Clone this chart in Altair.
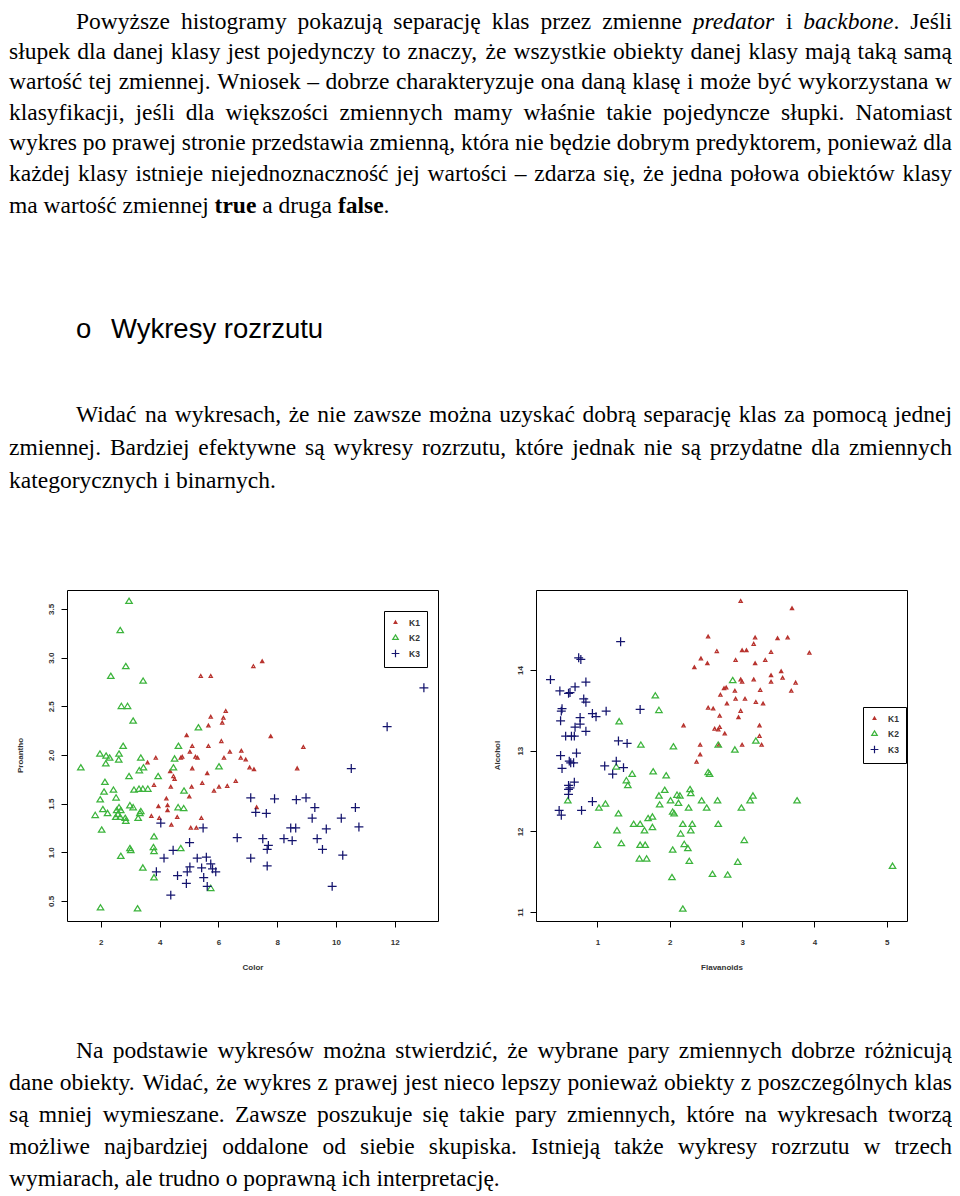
import re
import altair as alt
import pandas as pd

# ---------------- scatter data ----------------
classes = ["K1", "K2", "K3"]
class_colors = ["#b8332e", "#3cb43c", "#14146e"]
class_shapes = ["M0,-0.38L0.36,0.26L-0.36,0.26Z",
                "M0,-0.68L0.72,0.5L-0.72,0.5Z",
                "M-1,0L1,0M0,-1L0,1"]

# Plot 1: Color (x) vs Proantho (y)
k1_color = [7.19, 7.49, 5.74, 5.40, 6.25, 6.17, 5.74, 5.66, 6.13, 4.92, 7.78, 6.10, 5.66, 5.11, 8.89,
            5.03, 5.22, 5.29, 6.39, 6.19, 6.78, 6.76, 6.93, 4.72, 3.87, 3.59, 5.11, 7.06, 7.21, 8.68,
            4.36, 5.62, 4.47, 4.51, 3.81, 5.45, 6.59, 6.30, 6.02, 5.85, 5.09, 4.38, 5.01, 4.23, 4.27,
            4.27, 3.96, 7.30, 3.72, 3.99, 4.60, 5.42, 4.40, 5.06, 5.25, 4.77]
k1_proantho = [2.91, 2.96, 2.81, 2.81, 2.45, 2.38, 2.39, 2.30, 2.33, 2.20, 2.19, 2.14, 2.09, 2.09, 2.08,
               2.03, 1.98, 1.97, 2.03, 1.97, 2.04, 1.97, 1.95, 1.97, 1.97, 1.92, 1.86, 1.87, 1.85, 1.86,
               1.83, 1.81, 1.78, 1.75, 1.69, 1.71, 1.73, 1.68, 1.67, 1.63, 1.67, 1.67, 1.57, 1.55, 1.48,
               1.43, 1.47, 1.46, 1.37, 1.35, 1.36, 1.35, 1.28, 1.25, 1.25, 1.98]
k2_color = [2.96, 2.66, 2.85, 2.34, 3.44, 2.70, 2.91, 3.10, 5.32, 2.76, 4.64, 1.97, 2.18, 2.62, 2.61,
            3.36, 4.51, 1.32, 2.17, 3.45, 3.31, 3.95, 4.47, 6.02, 2.96, 2.14, 2.43, 2.11, 3.13, 3.30,
            3.43, 3.60, 4.83, 2.52, 1.98, 2.07, 2.23, 1.81, 2.62, 2.68, 2.54, 2.99, 3.10, 3.33, 4.63,
            4.82, 2.51, 2.66, 2.83, 2.85, 3.27, 2.03, 3.81, 2.68, 2.99, 3.02, 3.79, 3.81, 4.72, 3.43,
            3.81, 5.74, 1.99, 3.25, 2.30, 2.58, 3.36]
k2_proantho = [3.58, 3.28, 2.91, 2.81, 2.76, 2.50, 2.50, 2.35, 2.28, 2.09, 2.09, 2.01, 1.99, 2.01, 1.95,
               1.97, 1.96, 1.87, 1.91, 1.87, 1.84, 1.78, 1.87, 1.88, 1.78, 1.72, 1.64, 1.62, 1.64, 1.65,
               1.65, 1.65, 1.63, 1.56, 1.54, 1.44, 1.40, 1.38, 1.46, 1.43, 1.43, 1.48, 1.46, 1.40, 1.46,
               1.45, 1.36, 1.36, 1.35, 1.32, 1.35, 1.23, 1.16, 0.96, 1.04, 1.02, 1.05, 1.01, 1.04, 0.84,
               0.74, 0.63, 0.43, 0.42, 1.97, 1.39, 1.42]
k3_color = [12.99, 11.74, 10.52, 7.10, 7.91, 8.65, 8.98, 9.28, 10.66, 7.27, 7.63, 9.19, 10.18, 8.46, 8.63,
            9.67, 10.78, 4.04, 5.48, 6.64, 7.51, 8.23, 8.51, 9.36, 5.02, 7.70, 7.66, 9.54, 4.46, 10.23,
            7.10, 4.15, 5.28, 5.59, 5.74, 5.03, 5.43, 5.80, 7.66, 5.91, 4.94, 3.89, 4.61, 5.50, 4.91,
            5.62, 9.87, 4.38]
k3_proantho = [2.69, 2.29, 1.86, 1.56, 1.55, 1.54, 1.56, 1.46, 1.46, 1.41, 1.40, 1.35, 1.35, 1.25, 1.25,
               1.24, 1.26, 1.30, 1.25, 1.15, 1.14, 1.14, 1.12, 1.14, 1.10, 1.07, 1.03, 1.03, 1.02, 0.97,
               0.94, 0.94, 0.94, 0.95, 0.88, 0.85, 0.84, 0.83, 0.86, 0.80, 0.80, 0.80, 0.76, 0.74, 0.68,
               0.65, 0.65, 0.56]

# Plot 2: Flavanoids (x) vs Alcohol (y)
k1_flav = [2.98, 3.69, 2.53, 3.18, 3.49, 3.63, 3.16, 2.65, 3.00, 3.06, 3.40, 3.93, 2.43, 2.52, 2.91,
           3.18, 3.32, 2.34, 3.40, 3.54, 3.56, 2.98, 3.00, 3.16, 3.40, 3.74, 2.78, 2.75, 2.90, 3.25,
           3.68, 2.70, 2.91, 3.04, 3.19, 3.29, 2.79, 2.53, 2.60, 2.98, 2.69, 2.95, 2.19, 3.24, 2.62,
           2.67, 2.69, 2.76, 3.24, 2.42, 3.00, 3.27, 2.42, 2.37, 2.68]
k1_alcohol = [14.85, 14.76, 14.41, 14.40, 14.39, 14.40, 14.32, 14.23, 14.24, 14.24, 14.22, 14.21, 14.14, 14.08, 14.12,
              14.08, 14.12, 14.03, 13.93, 13.98, 13.90, 13.88, 13.85, 13.88, 13.85, 13.84, 13.78, 13.77, 13.74, 13.75,
              13.74, 13.69, 13.64, 13.64, 13.60, 13.58, 13.58, 13.53, 13.52, 13.49, 13.43, 13.41, 13.31, 13.31, 13.27,
              13.26, 13.29, 13.21, 13.18, 13.07, 13.07, 13.07, 12.95, 12.86, 13.07]
k2_flav = [2.87, 1.80, 1.85, 1.30, 1.60, 2.05, 2.67, 2.90, 3.19, 1.77, 1.95, 1.48, 1.40, 2.53, 2.55,
           1.26, 1.93, 2.28, 2.29, 1.85, 2.10, 2.14, 3.15, 3.11, 3.76, 2.44, 2.66, 0.59, 1.11, 1.02,
           2.01, 1.86, 2.12, 2.04, 2.06, 2.26, 2.51, 2.99, 1.29, 1.70, 1.76, 1.50, 1.59, 2.18, 2.31,
           2.67, 1.76, 1.65, 1.27, 2.15, 2.29, 1.00, 1.33, 1.59, 1.66, 2.20, 2.25, 2.04, 3.03, 1.58,
           1.68, 2.27, 2.94, 2.59, 2.80, 2.03, 5.08, 2.18, 1.42]
k2_alcohol = [13.87, 13.68, 13.50, 13.36, 13.07, 13.05, 13.07, 13.01, 13.12, 12.74, 12.69, 12.71, 12.63, 12.73, 12.71,
              12.80, 12.51, 12.52, 12.47, 12.44, 12.45, 12.44, 12.44, 12.38, 12.38, 12.38, 12.38, 12.38, 12.34, 12.29,
              12.38, 12.33, 12.35, 12.24, 12.22, 12.29, 12.29, 12.29, 12.22, 12.16, 12.18, 12.09, 12.09, 12.09, 12.09,
              12.09, 12.05, 12.01, 12.01, 11.97, 12.01, 11.83, 11.85, 11.83, 11.83, 11.84, 11.79, 11.77, 11.89, 11.66,
              11.66, 11.63, 11.62, 11.47, 11.46, 11.43, 11.57, 11.04, 12.57]
k3_flav = [1.32, 0.74, 0.77, 0.35, 0.84, 0.69, 0.48, 0.60, 0.62, 0.81, 0.84, 0.51, 0.50, 0.93, 0.98,
           1.12, 1.59, 0.76, 0.49, 0.76, 0.69, 0.84, 0.56, 0.64, 0.68, 1.29, 1.41, 0.71, 0.49, 0.63,
           0.67, 0.61, 0.51, 1.10, 1.26, 1.36, 1.21, 0.68, 0.60, 0.60, 0.60, 0.93, 0.47, 0.50, 0.78,
           0.62]
k3_alcohol = [14.35, 14.15, 14.13, 13.88, 13.85, 13.79, 13.74, 13.71, 13.72, 13.64, 13.60, 13.52, 13.49, 13.46, 13.42,
              13.49, 13.51, 13.41, 13.37, 13.33, 13.29, 13.24, 13.18, 13.18, 13.18, 13.12, 13.09, 12.97, 12.94, 12.85,
              12.85, 12.87, 12.78, 12.81, 12.87, 12.79, 12.71, 12.61, 12.57, 12.52, 12.46, 12.37, 12.26, 12.20, 12.26,
              12.54]

# axis ticks
color_ticks = [2, 4, 6, 8, 10, 12]
proantho_ticks = [0.5, 1.0, 1.5, 2.0, 2.5, 3.0, 3.5]
flav_ticks = [1, 2, 3, 4, 5]
alcohol_ticks = [11, 12, 13, 14]

# ---------------- page text ----------------
para1 = [
    "Powyższe histogramy pokazują separację klas przez zmienne _predator_ i _backbone_. Jeśli",
    "słupek dla danej klasy jest pojedynczy to znaczy, że wszystkie obiekty danej klasy mają taką samą",
    "wartość tej zmiennej. Wniosek – dobrze charakteryzuje ona daną klasę i może być wykorzystana w",
    "klasyfikacji, jeśli dla większości zmiennych mamy właśnie takie pojedyncze słupki. Natomiast",
    "wykres po prawej stronie przedstawia zmienną, która nie będzie dobrym predyktorem, ponieważ dla",
    "każdej klasy istnieje niejednoznaczność jej wartości – zdarza się, że jedna połowa obiektów klasy",
    "ma wartość zmiennej *true* a druga *false*.",
]
heading_bullet = "o"
heading_text = "Wykresy rozrzutu"
para2 = [
    "Widać na wykresach, że nie zawsze można uzyskać dobrą separację klas za pomocą jednej",
    "zmiennej. Bardziej efektywne są wykresy rozrzutu, które jednak nie są przydatne dla zmiennych",
    "kategorycznych i binarnych.",
]
para3 = [
    "Na podstawie wykresów można stwierdzić, że wybrane pary zmiennych dobrze różnicują",
    "dane obiekty. Widać, że wykres z prawej jest nieco lepszy ponieważ obiekty z poszczególnych klas",
    "są mniej wymieszane. Zawsze poszukuje się takie pary zmiennych, które na wykresach tworzą",
    "możliwe najbardziej oddalone od siebie skupiska. Istnieją także wykresy rozrzutu w trzech",
    "wymiarach, ale trudno o poprawną ich interpretację.",
]

# ---------------- text layout helpers (Times metrics, 1/1000 em) ----------------
FS = 23.5
PAGE_W = 943          # usable text width from the page's left edge
LEFT = 58             # the concatenation aligns on the left plot's frame; text starts this far left of it
INDENT = 67
_norm = dict(zip("abcdefghijklmnopqrstuvwxyz",
                 [444, 500, 444, 500, 444, 333, 500, 500, 278, 278, 500, 278, 778, 500, 500, 500, 500, 333, 389, 278, 500, 500, 722, 500, 500, 444]))
_norm.update(dict(zip("ABCDEFGHIJKLMNOPQRSTUVWXYZ",
                      [722, 667, 667, 722, 611, 556, 722, 722, 333, 389, 722, 611, 889, 722, 722, 556, 722, 667, 556, 611, 722, 722, 944, 722, 722, 611])))
_norm.update({" ": 250, ",": 250, ".": 250, "–": 500, "-": 333, ":": 278})
_ital = dict(_norm)
_ital.update(dict(zip("abcdefghijklmnopqrstuvwxyz",
                      [500, 500, 444, 500, 444, 278, 500, 500, 278, 278, 444, 278, 722, 500, 500, 500, 500, 389, 389, 278, 500, 444, 667, 444, 444, 389])))
_bold = dict(_norm)
_bold.update(dict(zip("abcdefghijklmnopqrstuvwxyz",
                      [500, 556, 444, 556, 444, 333, 500, 556, 278, 333, 556, 278, 833, 556, 500, 556, 556, 444, 389, 333, 556, 500, 722, 500, 500, 444])))
_pl = str.maketrans("ąćęłńóśźżĄĆĘŁŃÓŚŹŻ", "acelnoszzACELNOSZZ")
_tables = {"normal": _norm, "italic": _ital, "bold": _bold}


def text_w(s, style):
    t = _tables[style]
    return sum(t.get(c, 500) for c in s.translate(_pl)) / 1000.0 * FS


def parse_word(w):
    out = []
    for m in re.finditer(r"_([^_]+)_|\*([^*]+)\*|([^_*]+)", w):
        if m.group(1):
            out.append((m.group(1), "italic"))
        elif m.group(2):
            out.append((m.group(2), "bold"))
        else:
            out.append((m.group(3), "normal"))
    return out


def layout(lines, baselines):
    rows = []
    n = len(lines)
    for li, line in enumerate(lines):
        first = li == 0
        justify = li < n - 1
        start = INDENT if first else 0
        words = [parse_word(w) for w in line.split(" ")]
        widths = [sum(text_w(p, s) for p, s in wd) for wd in words]
        if justify and len(words) > 1:
            gap = (PAGE_W - start - sum(widths)) / (len(words) - 1)
        else:
            gap = 0.25 * FS
        x = start
        for wi, wd in enumerate(words):
            last = justify and wi == len(words) - 1 and len(wd) == 1
            px = x
            for p, s in wd:
                if last:
                    rows.append({"x": PAGE_W - LEFT, "y": baselines[li], "t": p, "s": s, "a": "right"})
                else:
                    rows.append({"x": px - LEFT, "y": baselines[li], "t": p, "s": s, "a": "left"})
                px += text_w(p, s)
            x += widths[wi] + gap
    return rows


top_rows = layout(para1, [21, 50.5, 81, 111.5, 142, 173, 204.5]) + layout(para2, [413.5, 446.5, 479.5])
bottom_rows = layout(para3, [86, 118, 150, 182, 214])


def text_layers(rows):
    base = alt.Chart(pd.DataFrame(rows))
    enc = dict(x=alt.X("x:Q", scale=None, axis=None),
               y=alt.Y("y:Q", scale=None, axis=None),
               text=alt.Text("t:N"))
    common = dict(baseline="alphabetic", font="Liberation Serif", fontSize=FS, color="black")
    layers = [
        base.transform_filter("datum.s == 'normal' && datum.a == 'left'").mark_text(align="left", **common).encode(**enc),
        base.transform_filter("datum.a == 'right'").mark_text(align="right", **common).encode(**enc),
    ]
    df = pd.DataFrame(rows)
    if (df["s"] == "italic").any():
        layers.append(base.transform_filter("datum.s == 'italic'").mark_text(align="left", fontStyle="italic", **common).encode(**enc))
    if (df["s"] == "bold").any():
        layers.append(base.transform_filter("datum.s == 'bold'").mark_text(align="left", fontWeight="bold", **common).encode(**enc))
    return layers


heading_df = pd.DataFrame({"x": [INDENT - LEFT, 102 - LEFT], "y": [330, 330], "t": [heading_bullet, heading_text]})
heading = alt.Chart(heading_df).mark_text(align="left", baseline="alphabetic", font="Liberation Sans",
                                          fontSize=27.5, color="black").encode(
    x=alt.X("x:Q", scale=None, axis=None), y=alt.Y("y:Q", scale=None, axis=None), text="t:N")

top_chart = alt.layer(*text_layers(top_rows), heading).properties(
    width=PAGE_W - LEFT, height=581, view=alt.ViewBackground(strokeWidth=0))
bottom_chart = alt.layer(*text_layers(bottom_rows)).properties(
    width=PAGE_W - LEFT, height=219, view=alt.ViewBackground(strokeWidth=0))

# ---------------- scatter plots ----------------
PW, PH = 371, 331


def scatter(xs, ys, x_title, y_title, x_dom, y_dom, x_ticks, y_ticks, x_fmt, y_fmt, leg_x, leg_y, ytitle_x):
    recs = []
    for c, xv, yv in zip(classes, xs, ys):
        for a, b in zip(xv, yv):
            recs.append({"cls": c, "xv": a, "yv": b})
    df = pd.DataFrame(recs)
    legend = alt.Legend(title=None, orient="none", legendX=leg_x, legendY=leg_y,
                        strokeColor="black", fillColor="white", padding=7, rowPadding=5,
                        labelOffset=9, labelFont="Liberation Sans", labelFontSize=8.5,
                        labelFontWeight="bold", labelColor="#333333",
                        symbolSize=60, symbolStrokeWidth=1.2)
    pts = alt.Chart(df).mark_point(filled=False, size=80, strokeWidth=1.25, opacity=1).encode(
        x=alt.X("xv:Q", title=x_title,
                scale=alt.Scale(domain=x_dom, nice=False, zero=False),
                axis=alt.Axis(values=x_ticks, format=x_fmt, grid=False, domain=False,
                              tickSize=6, tickColor="black", tickWidth=1,
                              labelPadding=11, labelFont="Liberation Sans", labelFontSize=8,
                              labelFontWeight="bold", labelColor="#333333",
                              labelFlush=False, labelOverlap=False,
                              minExtent=25, maxExtent=25,
                              titleFont="Liberation Sans", titleFontSize=8, titleFontWeight="bold",
                              titleColor="#333333", titlePadding=17)),
        y=alt.Y("yv:Q", title=None,
                scale=alt.Scale(domain=y_dom, nice=False, zero=False),
                axis=alt.Axis(values=y_ticks, format=y_fmt, grid=False, domain=False,
                              tickSize=6, tickColor="black", tickWidth=1,
                              labelAngle=270, labelAlign="center", labelBaseline="bottom",
                              labelPadding=6, labelFont="Liberation Sans", labelFontSize=8,
                              labelFontWeight="bold", labelColor="#333333",
                              labelFlush=False, labelOverlap=False,
                              minExtent=58, maxExtent=58)),
        color=alt.Color("cls:N", scale=alt.Scale(domain=classes, range=class_colors), legend=legend),
        shape=alt.Shape("cls:N", scale=alt.Scale(domain=classes, range=class_shapes), legend=legend),
    )
    ytitle = alt.Chart(pd.DataFrame({"t": [y_title]})).mark_text(
        angle=270, align="center", baseline="middle", font="Liberation Sans", fontSize=8,
        fontWeight="bold", color="#333333").encode(
        text="t:N", x=alt.value(ytitle_x), y=alt.value(PH / 2))
    return alt.layer(pts, ytitle).properties(
        width=PW, height=PH, view=alt.ViewBackground(stroke="black", strokeWidth=1))


left = scatter([k1_color, k2_color, k3_color], [k1_proantho, k2_proantho, k3_proantho],
               "Color", "Proantho", [0.85, 13.47], [0.294, 3.695], color_ticks, proantho_ticks,
               "d", ".1f", 317, 21, -46)
right = scatter([k1_flav, k2_flav, k3_flav], [k1_alcohol, k2_alcohol, k3_alcohol],
                "Flavanoids", "Alcohol", [0.15, 5.28], [10.89, 14.99], flav_ticks, alcohol_ticks,
                "d", "d", 327, 117, -38)

plots = alt.hconcat(left, right, spacing=38).resolve_scale(
    x="independent", y="independent", color="independent", shape="independent"
).resolve_legend(color="independent", shape="independent")

chart = alt.vconcat(top_chart, plots, bottom_chart, spacing=0).resolve_scale(
    color="independent", shape="independent"
).resolve_legend(color="independent", shape="independent").properties(
    padding=0, background="white")

chart.save("out.html", embed_options={"renderer": "svg", "actions": False})
